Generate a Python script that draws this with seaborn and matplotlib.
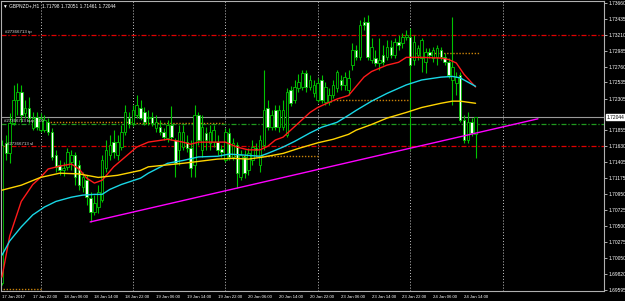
import numpy as np
import pandas as pd
import matplotlib
matplotlib.use("Agg")
import matplotlib.pyplot as plt
import matplotlib.transforms as mtransforms
import seaborn as sns

# ---------------- data ----------------
header_text = "\u25bc GBPNZD+,H1  1.71798 1.72051 1.71461 1.72044"

opens = [1.6969, 1.7168, 1.7153, 1.7196, 1.7228, 1.7240, 1.7210, 1.7217, 1.7189, 1.7204,
         1.7186, 1.7186, 1.7197, 1.7183, 1.7151, 1.7136, 1.7129, 1.7134, 1.7141, 1.7151,
         1.7136, 1.7105, 1.7115, 1.7090, 1.7070, 1.7077, 1.7087, 1.7132, 1.7151, 1.7169,
         1.7151, 1.7162, 1.7183, 1.7203, 1.7196, 1.7207, 1.7217, 1.7211, 1.7203, 1.7204,
         1.7189, 1.7190, 1.7183, 1.7175, 1.7193, 1.7172, 1.7158, 1.7162, 1.7169, 1.7160,
         1.7136, 1.7207, 1.7158, 1.7182, 1.7168, 1.7169, 1.7169, 1.7159, 1.7143, 1.7182,
         1.7148, 1.7165, 1.7119, 1.7148, 1.7129, 1.7143, 1.7160, 1.7136, 1.7165, 1.7217,
         1.7190, 1.7214, 1.7190, 1.7190, 1.7179, 1.7243, 1.7228, 1.7245, 1.7247, 1.7267,
         1.7247, 1.7238, 1.7228, 1.7257, 1.7226, 1.7226, 1.7236, 1.7245, 1.7257, 1.7250,
         1.7243, 1.7278, 1.7299, 1.7289, 1.7339, 1.7339, 1.7285, 1.7288, 1.7281, 1.7292,
         1.7289, 1.7304, 1.7292, 1.7311, 1.7309, 1.7318, 1.7318, 1.7285, 1.7292, 1.7288,
         1.7282, 1.7296, 1.7288, 1.7289, 1.7299, 1.7289, 1.7282, 1.7257, 1.7253, 1.7264,
         1.7200, 1.7172, 1.7197, 1.71798]
highs = [1.7172, 1.7179, 1.7210, 1.7250, 1.7253, 1.7250, 1.7228, 1.7233, 1.7211, 1.7211,
         1.7210, 1.7207, 1.7203, 1.7189, 1.7158, 1.7143, 1.7141, 1.7160, 1.7158, 1.7155,
         1.7143, 1.7126, 1.7122, 1.7098, 1.7094, 1.7108, 1.7151, 1.7172, 1.7179, 1.7186,
         1.7179, 1.7193, 1.7221, 1.7211, 1.7221, 1.7236, 1.7228, 1.7219, 1.7214, 1.7211,
         1.7207, 1.7200, 1.7189, 1.7200, 1.7220, 1.7175, 1.7193, 1.7193, 1.7179, 1.7172,
         1.7221, 1.7211, 1.7207, 1.7190, 1.7193, 1.7193, 1.7179, 1.7165, 1.7189, 1.7189,
         1.7175, 1.7169, 1.7158, 1.7158, 1.7160, 1.7172, 1.7168, 1.7179, 1.7271, 1.7228,
         1.7214, 1.7221, 1.7221, 1.7228, 1.7245, 1.7248, 1.7257, 1.7265, 1.7271, 1.7271,
         1.7264, 1.7257, 1.7260, 1.7264, 1.7254, 1.7245, 1.7257, 1.7271, 1.7264, 1.7268,
         1.7271, 1.7309, 1.7306, 1.7342, 1.7346, 1.7349, 1.7316, 1.7299, 1.7316, 1.7306,
         1.7313, 1.7313, 1.7316, 1.7321, 1.7323, 1.7328, 1.7330, 1.7321, 1.7306, 1.7316,
         1.7302, 1.7302, 1.7304, 1.7306, 1.7304, 1.7295, 1.7288, 1.7346, 1.7268, 1.7268,
         1.7207, 1.7211, 1.7203, 1.72051]
lows = [1.6966, 1.7143, 1.7139, 1.7193, 1.7207, 1.7197, 1.7203, 1.7196, 1.7186, 1.7186,
        1.7183, 1.7183, 1.7179, 1.7143, 1.7126, 1.7122, 1.7121, 1.7129, 1.7129, 1.7108,
        1.7101, 1.7098, 1.7080, 1.7056, 1.7066, 1.7068, 1.7084, 1.7126, 1.7143, 1.7146,
        1.7143, 1.7158, 1.7179, 1.7189, 1.7192, 1.7203, 1.7200, 1.7193, 1.7193, 1.7192,
        1.7183, 1.7179, 1.7172, 1.7169, 1.7172, 1.7119, 1.7136, 1.7158, 1.7155, 1.7119,
        1.7119, 1.7165, 1.7148, 1.7158, 1.7158, 1.7162, 1.7151, 1.7148, 1.7141, 1.7143,
        1.7143, 1.7104, 1.7115, 1.7118, 1.7122, 1.7136, 1.7151, 1.7126, 1.7158, 1.7186,
        1.7186, 1.7186, 1.7183, 1.7186, 1.7176, 1.7220, 1.7224, 1.7240, 1.7243, 1.7240,
        1.7243, 1.7233, 1.7226, 1.7224, 1.7221, 1.7221, 1.7231, 1.7240, 1.7243, 1.7243,
        1.7236, 1.7271, 1.7285, 1.7285, 1.7328, 1.7285, 1.7281, 1.7277, 1.7271, 1.7278,
        1.7285, 1.7288, 1.7288, 1.7299, 1.7302, 1.7313, 1.7158, 1.7278, 1.7285, 1.7268,
        1.7267, 1.7288, 1.7282, 1.7278, 1.7285, 1.7278, 1.7260, 1.7221, 1.7236, 1.7197,
        1.7168, 1.7168, 1.7178, 1.71461]
closes = [1.7165, 1.7153, 1.7196, 1.7228, 1.7240, 1.7207, 1.7217, 1.7203, 1.7203, 1.7190,
          1.7203, 1.7200, 1.7183, 1.7148, 1.7134, 1.7129, 1.7132, 1.7155, 1.7151, 1.7119,
          1.7108, 1.7119, 1.7091, 1.7070, 1.7083, 1.7098, 1.7143, 1.7158, 1.7165, 1.7155,
          1.7169, 1.7183, 1.7211, 1.7194, 1.7214, 1.7221, 1.7203, 1.7197, 1.7204, 1.7196,
          1.7197, 1.7183, 1.7176, 1.7193, 1.7176, 1.7139, 1.7183, 1.7183, 1.7160, 1.7132,
          1.7207, 1.7172, 1.7190, 1.7172, 1.7183, 1.7186, 1.7158, 1.7155, 1.7183, 1.7148,
          1.7168, 1.7125, 1.7151, 1.7125, 1.7153, 1.7162, 1.7158, 1.7172, 1.7214, 1.7190,
          1.7207, 1.7190, 1.7214, 1.7214, 1.7240, 1.7224, 1.7247, 1.7254, 1.7267, 1.7247,
          1.7257, 1.7250, 1.7253, 1.7228, 1.7247, 1.7236, 1.7250, 1.7268, 1.7250, 1.7261,
          1.7260, 1.7299, 1.7289, 1.7335, 1.7335, 1.7289, 1.7304, 1.7281, 1.7285, 1.7282,
          1.7304, 1.7292, 1.7311, 1.7306, 1.7318, 1.7321, 1.7278, 1.7311, 1.7302, 1.7313,
          1.7296, 1.7292, 1.7299, 1.7302, 1.7289, 1.7282, 1.7264, 1.7275, 1.7261, 1.7200,
          1.7172, 1.7197, 1.7182, 1.72044]

# moving averages read at sampled bars
red_bars = [0, 2, 5, 8, 10, 12, 15, 18, 20, 22, 24, 26, 29, 32, 35, 38, 43, 47, 49, 51,
            56, 58, 61, 64, 67, 69, 71, 73, 75, 77, 80, 82, 84, 87, 90, 92, 94, 96, 100,
            103, 105, 109, 114, 116, 118, 120, 122, 123]
red_vals = [1.6978, 1.7036, 1.7085, 1.7109, 1.7119, 1.7131, 1.7135, 1.7138, 1.7131, 1.7118,
            1.7111, 1.7115, 1.7134, 1.7148, 1.7162, 1.7169, 1.7173, 1.7169, 1.7166, 1.7169,
            1.7169, 1.7169, 1.7162, 1.7158, 1.7158, 1.7163, 1.7172, 1.7176, 1.7186, 1.7196,
            1.7211, 1.7218, 1.7223, 1.7230, 1.7235, 1.7248, 1.7261, 1.7269, 1.7278,
            1.7282, 1.7289, 1.7289, 1.7288, 1.7286, 1.7281, 1.7265, 1.7253, 1.7247]
cyan_bars = [0, 2, 5, 8, 11, 14, 18, 21, 24, 26, 28, 31, 36, 38, 43, 47, 51, 56, 59, 62,
             67, 69, 73, 76, 80, 83, 87, 90, 92, 96, 100, 105, 109, 114, 117, 119, 121, 123]
cyan_vals = [1.7009, 1.7029, 1.7049, 1.7066, 1.7077, 1.7085, 1.7091, 1.7094, 1.7095, 1.7095,
             1.7102, 1.7109, 1.7118, 1.7125, 1.7139, 1.7143, 1.7148, 1.7149, 1.7152, 1.7151,
             1.7149, 1.7153, 1.7162, 1.7170, 1.7182, 1.7190, 1.7197, 1.7207, 1.7214, 1.7227,
             1.7238, 1.7250, 1.7257, 1.7261, 1.7262, 1.7260, 1.7254, 1.7248]
yellow_bars = [0, 5, 10, 15, 20, 25, 30, 36, 38, 47, 56, 60, 64, 68, 73, 77, 82, 86, 90,
               92, 96, 100, 105, 109, 114, 117, 119, 123]
yellow_vals = [1.7101, 1.7108, 1.7119, 1.7125, 1.7124, 1.7119, 1.7122, 1.7129, 1.7134, 1.7139,
               1.7145, 1.7146, 1.7145, 1.7148, 1.7153, 1.7160, 1.7168, 1.7173, 1.7180,
               1.7186, 1.7194, 1.7203, 1.7211, 1.7218, 1.7224, 1.7227, 1.7227, 1.7224]

trend_bars = [22.9, 139.2]
trend_vals = [1.7056, 1.7202]

tp_level = 1.7321
sl_level = 1.7163
entry_level = 1.7195
bid_level = 1.72044

day_open_start = [-0.5, 10, 34, 58, 82, 106]
day_open_end = [10, 34, 58, 82, 106, 124]
day_open_vals = [1.6961, 1.7197, 1.7196, 1.7149, 1.7228, 1.7295]

separator_bars = [10, 34, 58, 82, 106, 130]

tick_bars = [0, 8, 16, 24, 32, 40, 48, 56, 64, 72, 80, 88, 96, 104, 112, 120]
tick_labels = ["17 Jan 2017", "17 Jan 22:00", "18 Jan 06:00", "18 Jan 14:00",
               "18 Jan 22:00", "19 Jan 06:00", "19 Jan 14:00", "19 Jan 22:00",
               "20 Jan 06:00", "20 Jan 14:00", "20 Jan 22:00", "23 Jan 06:00",
               "23 Jan 14:00", "23 Jan 22:00", "24 Jan 06:00", "24 Jan 14:00"]

price_ticks = [1.73660, 1.73435, 1.73210, 1.72985, 1.72760, 1.72535, 1.72305,
               1.71855, 1.71630, 1.71405, 1.71175, 1.70950, 1.70725, 1.70500,
               1.70275, 1.70050, 1.69820, 1.69595]

order_labels = ["#27366713 tp", "#27366713 buy 1.00", "#27366713 sl"]

# ---------------- style ----------------
sns.set_theme(style="dark", rc={
    "axes.facecolor": "black",
    "figure.facecolor": "black",
    "axes.edgecolor": "#b0b0b0",
    "axes.grid": False,
    "xtick.color": "#c8c8c8",
    "ytick.color": "#c8c8c8",
    "text.color": "white",
})
plt.rcParams["font.family"] = ["Liberation Sans", "DejaVu Sans"]

W, H = 625, 301
fig = plt.figure(figsize=(W / 100, H / 100), dpi=100)
ax = fig.add_axes([1 / W, 10 / H, 603 / W, 290 / H])
ax.set_facecolor("black")

x_lo, x_hi = -0.26, 156.36
y_lo, y_hi = 1.69582, 1.73688
ax.set_xlim(x_lo, x_hi)
ax.set_ylim(y_lo, y_hi)

green = "#00c400"

# period separators
for b in separator_bars:
    ax.axvline(b, color="#c8c8c8", lw=0.7, ls=(0, (1, 2)), zorder=1)

# daily open levels
for s, e, v in zip(day_open_start, day_open_end, day_open_vals):
    ax.plot([s, e], [v, v], color="#c8820a", lw=1.0, ls=(0, (1, 1.2)), zorder=1)

# order lines
ax.axhline(tp_level, color="#e00000", lw=0.9, ls=(0, (4, 1.5, 1, 1.5)), zorder=1)
ax.axhline(sl_level, color="#e00000", lw=0.9, ls=(0, (4, 1.5, 1, 1.5)), zorder=1)
ax.axhline(entry_level, color="#1f9a1f", lw=0.9, ls=(0, (4, 1.5, 1, 1.5)), zorder=1)
ax.axhline(bid_level, color="#9a9a9a", lw=0.8, zorder=1)

# candles
idx = np.arange(len(opens))
o = np.array(opens); h = np.array(highs); l = np.array(lows); c = np.array(closes)
ax.vlines(idx, l, h, color=green, lw=0.8, zorder=2)
bull = c >= o
body_lo = np.minimum(o, c)
body_h = np.maximum(np.abs(c - o), 0.00008)
ax.bar(idx[bull], body_h[bull], bottom=body_lo[bull], width=0.66,
       color="black", edgecolor=green, linewidth=0.6, zorder=2.5)
ax.bar(idx[~bull], body_h[~bull], bottom=body_lo[~bull], width=0.66,
       color="white", edgecolor=green, linewidth=0.6, zorder=2.5)

# moving averages
ma = pd.concat([
    pd.DataFrame({"bar": red_bars, "price": red_vals, "ma": "red"}),
    pd.DataFrame({"bar": cyan_bars, "price": cyan_vals, "ma": "cyan"}),
    pd.DataFrame({"bar": yellow_bars, "price": yellow_vals, "ma": "yellow"}),
])
sns.lineplot(data=ma, x="bar", y="price", hue="ma",
             palette={"red": "#ff1a1a", "cyan": "#19d7e6", "yellow": "#ffd400"},
             lw=1.0, ax=ax, legend=False, zorder=3, sort=False)

# trendline
sns.lineplot(x=trend_bars, y=trend_vals, color="#ff00ff", lw=1.0, ax=ax, zorder=4)

# axes
ax.yaxis.tick_right()
ax.set_yticks(price_ticks)
ax.set_yticklabels([f"{v:.5f}" for v in price_ticks])
ax.set_xticks(tick_bars)
ax.set_xticklabels(tick_labels, ha="left")
ax.tick_params(axis="y", labelsize=3.5, length=2, width=0.6, pad=1.0,
               labelcolor="white", direction="out")
ax.tick_params(axis="x", labelsize=3.1, length=2, width=0.6, pad=1.0,
               labelcolor="white", direction="out")
ax.set_xlabel("")
ax.set_ylabel("")
for sp in ax.spines.values():
    sp.set_color("#b0b0b0")
    sp.set_linewidth(0.8)

# current price box
trans = mtransforms.blended_transform_factory(ax.transAxes, ax.transData)
ax.text(1.004, bid_level, f"{bid_level:.5f}", transform=trans, fontsize=3.5,
        color="black", va="center", ha="left",
        bbox=dict(boxstyle="square,pad=0.12", fc="white", ec="white"), zorder=6,
        clip_on=False)

# header & order labels
fig.text(3 / W, 1 - 3 / H, header_text, fontsize=3.4, color="white", va="top", ha="left")
ax.text(0.8, tp_level + 0.00012, order_labels[0], fontsize=3.2, color="#e0e0e0",
        va="bottom", ha="left", zorder=5)
ax.text(0.4, entry_level + 0.00008, order_labels[1], fontsize=3.2, color="#e0e0e0",
        va="bottom", ha="left", zorder=5)
ax.text(1.2, sl_level + 0.00012, order_labels[2], fontsize=3.2, color="#e0e0e0",
        va="bottom", ha="left", zorder=5)

fig.savefig("out.png", dpi=100, facecolor="black")
